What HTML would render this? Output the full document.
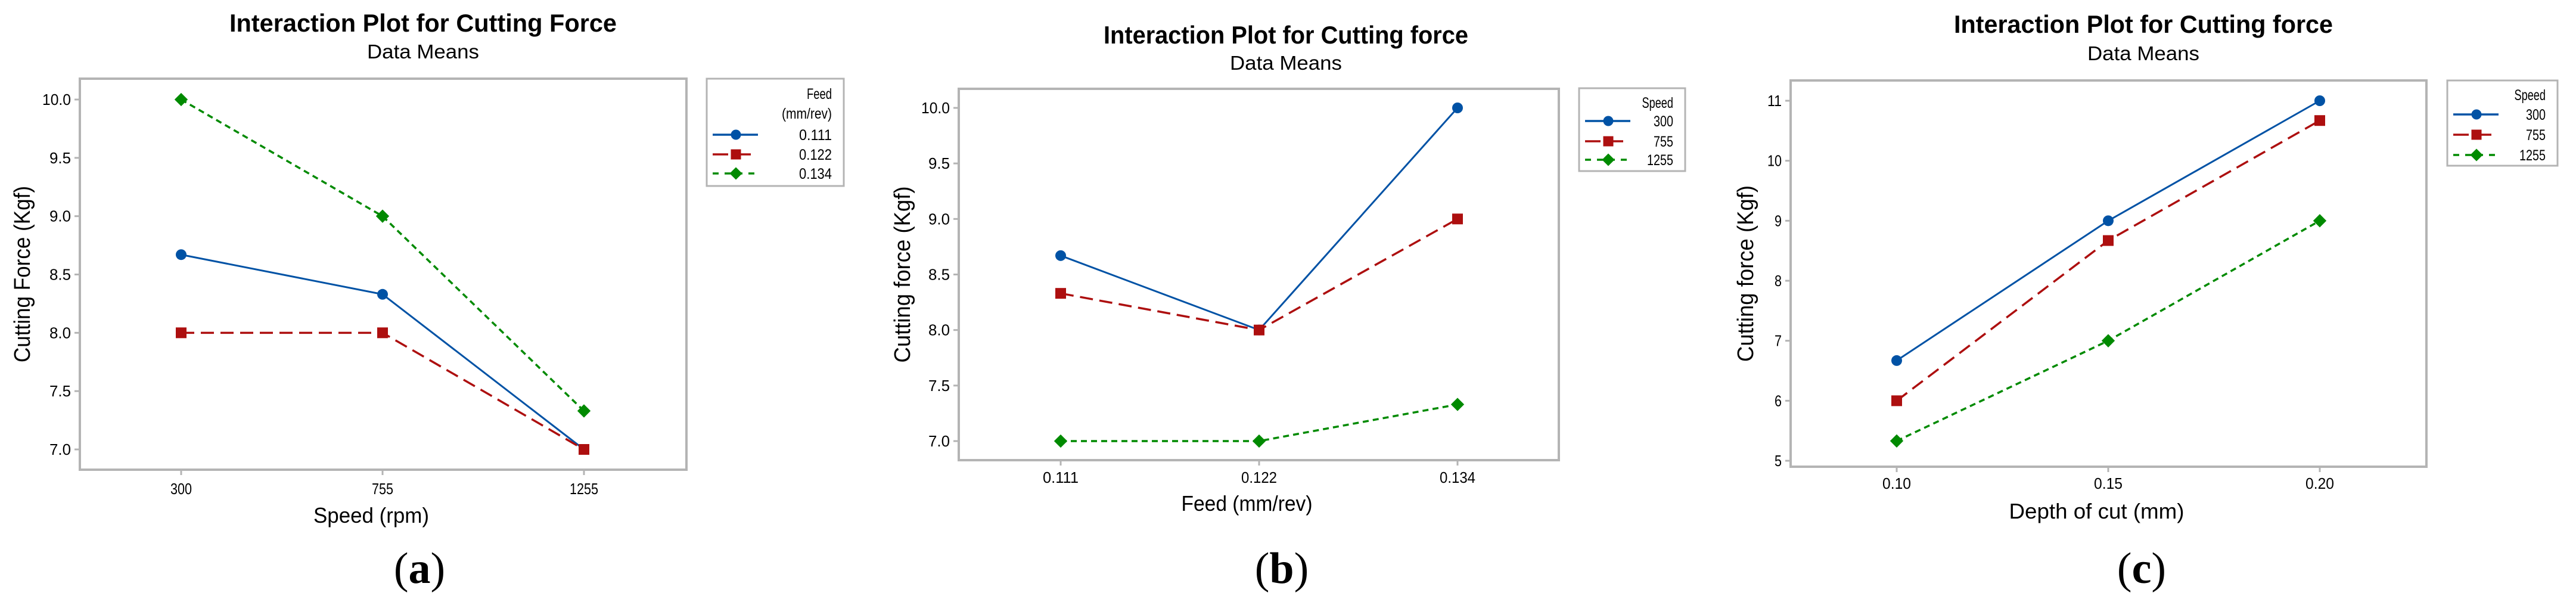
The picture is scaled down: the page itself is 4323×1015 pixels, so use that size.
<!DOCTYPE html>
<html><head><meta charset="utf-8"><style>
html,body{margin:0;padding:0;background:#fff;}
svg{display:block;}
text{font-family:"Liberation Sans",sans-serif;fill:#000;}
</style></head><body>
<svg id="fig" width="4323" height="1015" viewBox="0 0 4323 1015" xmlns="http://www.w3.org/2000/svg"></svg>
<script>
// Panel (a)
const aCats = ["300","755","1255"];
const aSeriesNames = ["0.111","0.122","0.134"];
const aS1 = [8.67, 8.33, 7.0];
const aS2 = [8.0, 8.0, 7.0];
const aS3 = [10.0, 9.0, 7.33];
const aTicks = [7.0, 7.5, 8.0, 8.5, 9.0, 9.5, 10.0];
const aTickLabels = ["7.0","7.5","8.0","8.5","9.0","9.5","10.0"];
// Panel (b)
const bCats = ["0.111","0.122","0.134"];
const bSeriesNames = ["300","755","1255"];
const bS1 = [8.67, 8.0, 10.0];
const bS2 = [8.33, 8.0, 9.0];
const bS3 = [7.0, 7.0, 7.33];
const bTicks = [7.0, 7.5, 8.0, 8.5, 9.0, 9.5, 10.0];
const bTickLabels = ["7.0","7.5","8.0","8.5","9.0","9.5","10.0"];
// Panel (c)
const cCats = ["0.10","0.15","0.20"];
const cSeriesNames = ["300","755","1255"];
const cS1 = [6.67, 9.0, 11.0];
const cS2 = [6.0, 8.67, 10.67];
const cS3 = [5.33, 7.0, 9.0];
const cTicks = [5, 6, 7, 8, 9, 10, 11];
const cTickLabels = ["5","6","7","8","9","10","11"];

const NS = "http://www.w3.org/2000/svg";
const svg = document.getElementById('fig');
function mk(tag, attrs, parent, txt){
  const e = document.createElementNS(NS, tag);
  for (const k in attrs) e.setAttribute(k, attrs[k]);
  if (txt !== undefined) e.textContent = txt;
  (parent || svg).appendChild(e);
  return e;
}
const COLORS = ["#0052a5","#ad0f0f","#008a00"];
const DASH = ["none","22 11","10 7"];
const SHAPES = ["circle","square","diamond"];

function marker(g, shape, x, y, color, size){
  let m;
  if (shape === "circle") m = mk('circle', {cx:x, cy:y, r:size/2, fill:color}, g);
  else if (shape === "square") m = mk('rect', {x:x-size/2, y:y-size/2, width:size, height:size, fill:color}, g);
  else { const h = size*0.62; m = mk('polygon', {points:`${x},${y-h} ${x+h},${y} ${x},${y+h} ${x-h},${y}`, fill:color}, g); }
  return m;
}

function panel(cfg){
  const g = mk('g', {});
  
  
  const yScale = v => cfg.yPix1 + (v - cfg.yVal1) * (cfg.yPix2 - cfg.yPix1) / (cfg.yVal2 - cfg.yVal1);
  const xScale = i => cfg.xPix[0] + i * (cfg.xPix[1] - cfg.xPix[0]);
  const t = mk('text', {x:cfg.titleX, y:cfg.titleY, 'text-anchor':'middle', 'font-size':42, 'font-weight':'bold', textLength:cfg.titleW, lengthAdjust:'spacingAndGlyphs'}, g, cfg.title);
  
  
  const st = mk('text', {x:cfg.titleX, y:cfg.subY, 'text-anchor':'middle', 'font-size':33, textLength:188, lengthAdjust:'spacingAndGlyphs'}, g, "Data Means");
  
  
  const fr = mk('rect', {x:cfg.L, y:cfg.T, width:cfg.R-cfg.L, height:cfg.B-cfg.T, fill:'none', stroke:'#b4b4b4', 'stroke-width':4}, g);
  
  
  cfg.ticks.forEach((v, i) => {
    const y = yScale(v);
    mk('line', {x1:cfg.L-9, x2:cfg.L, y1:y, y2:y, stroke:'#b4b4b4', 'stroke-width':3}, g);
    const tl = mk('text', {x:cfg.L-15, y:y+9, 'text-anchor':'end', 'font-size':26, textLength:cfg.tickLabels[i].length*12, lengthAdjust:'spacingAndGlyphs'}, g, cfg.tickLabels[i]);
    
    
  });
  cfg.cats.forEach((c, i) => {
    const x = xScale(i);
    mk('line', {x1:x, x2:x, y1:cfg.B, y2:cfg.B+9, stroke:'#b4b4b4', 'stroke-width':3}, g);
    const tl = mk('text', {x:x, y:cfg.xTickY, 'text-anchor':'middle', 'font-size':26, textLength:c.length*12, lengthAdjust:'spacingAndGlyphs'}, g, c);
    
    
  });
  const xt = mk('text', {x:(cfg.L+cfg.R)/2 - 20, y:cfg.xLabelY, 'text-anchor':'middle', 'font-size':36, textLength:cfg.xLabelW, lengthAdjust:'spacingAndGlyphs'}, g, cfg.xLabel);
  
  
  const yt = mk('text', {x:0, y:0, 'text-anchor':'middle', 'font-size':38, textLength:296, lengthAdjust:'spacingAndGlyphs', transform:`translate(${cfg.yLabelX},${(cfg.T+cfg.B)/2}) rotate(-90)`}, g, cfg.yLabel);
  
  
  cfg.series.forEach((vals, si) => {
    const sg = mk('g', {}, g);
    
    
    const pts = vals.map((v, i) => `${xScale(i)},${yScale(v)}`).join(' ');
    const pl = mk('polyline', {points:pts, fill:'none', stroke:COLORS[si], 'stroke-width':si===0?3:3.5, 'stroke-dasharray':DASH[si]}, sg);
    
    
    vals.forEach((v, i) => {
      const m = marker(sg, SHAPES[si], xScale(i), yScale(v), COLORS[si], 18);
      
      
    });
  });
  const lg = mk('g', {}, g);
  
  
  const lb = cfg.leg;
  mk('rect', {x:lb.x, y:lb.y, width:lb.w, height:lb.h, fill:'#fff', stroke:'#b4b4b4', 'stroke-width':3}, lg);
  lb.titles.forEach((tt, i) => {
    const e = mk('text', {x:lb.x+lb.w-20, y:lb.titleYs[i]+9, 'text-anchor':'end', 'font-size':25, textLength:tt.length*10.5, lengthAdjust:'spacingAndGlyphs'}, lg, tt);
    
    
  });
  cfg.names.forEach((n, i) => {
    const y = lb.rowYs[i];
    const eg = mk('g', {}, lg);
    
    
    mk('line', {x1:lb.x+10, x2:lb.x+86, y1:y, y2:y, stroke:COLORS[i], 'stroke-width':3.5, 'stroke-dasharray':i===0?'none':(i===1?'26 12':'10 10')}, eg);
    marker(eg, SHAPES[i], lb.x+49, y, COLORS[i], 17);
    mk('text', {x:lb.x+lb.w-20, y:y+9, 'text-anchor':'end', 'font-size':25, textLength:n.length*11, lengthAdjust:'spacingAndGlyphs'}, eg, n);
  });
  const cap = mk('text', {x:cfg.capX, y:978, 'text-anchor':'middle', 'font-size':74, style:'font-family:"Liberation Serif",serif'}, g);
  
  
  mk('tspan', {}, cap, '(');
  mk('tspan', {'font-weight':'bold'}, cap, cfg.capLetter);
  mk('tspan', {}, cap, ')');
}

panel({id:'a', title:'Interaction Plot for Cutting Force', titleX:710, titleY:53, titleW:650, subY:98,
  L:134, R:1152, T:132, B:788, yVal1:10, yPix1:167, yVal2:7, yPix2:754, xPix:[304,642],
  cats:aCats, names:aSeriesNames, series:[aS1,aS2,aS3], ticks:aTicks, tickLabels:aTickLabels,
  xTickY:829, xLabel:'Speed (rpm)', xLabelY:877, xLabelW:194, yLabel:'Cutting Force (Kgf)', yLabelX:50,
  leg:{x:1186, y:132, w:230, h:180, titles:['Feed','(mm/rev)'], titleYs:[157,190], rowYs:[226,259,291]},
  capX:704, capLetter:'a'});
panel({id:'b', title:'Interaction Plot for Cutting force', titleX:2158, titleY:73, titleW:612, subY:117,
  L:1609, R:2616, T:149, B:772, yVal1:10, yPix1:181, yVal2:7, yPix2:740, xPix:[1780,2113],
  cats:bCats, names:bSeriesNames, series:[bS1,bS2,bS3], ticks:bTicks, tickLabels:bTickLabels,
  xTickY:810, xLabel:'Feed (mm/rev)', xLabelY:857, xLabelW:220, yLabel:'Cutting force (Kgf)', yLabelX:1527,
  leg:{x:2650, y:148, w:178, h:139, titles:['Speed'], titleYs:[172], rowYs:[203,237,268]},
  capX:2151, capLetter:'b'});
panel({id:'c', title:'Interaction Plot for Cutting force', titleX:3597, titleY:55, titleW:636, subY:101,
  L:3005, R:4072, T:135, B:783, yVal1:11, yPix1:169, yVal2:5, yPix2:773, xPix:[3183,3538],
  cats:cCats, names:cSeriesNames, series:[cS1,cS2,cS3], ticks:cTicks, tickLabels:cTickLabels,
  xTickY:820, xLabel:'Depth of cut (mm)', xLabelY:870, xLabelW:294, yLabel:'Cutting force (Kgf)', yLabelX:2942,
  leg:{x:4107, y:135, w:185, h:143, titles:['Speed'], titleYs:[159], rowYs:[192,226,260]},
  capX:3594, capLetter:'c'});
</script>
</body></html>
